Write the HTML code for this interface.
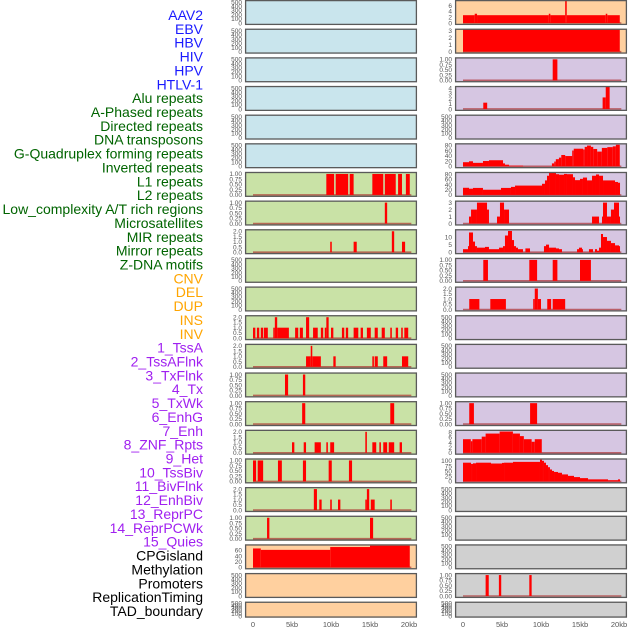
<!DOCTYPE html>
<html><head><meta charset="utf-8"><style>
html,body{margin:0;padding:0;background:#fff;}
svg{display:block;font-family:"Liberation Sans",sans-serif;}
</style></head><body>
<svg id="chart" width="630" height="630" viewBox="0 0 630 630" xmlns="http://www.w3.org/2000/svg"></svg>
<script>
const trackNames = ["AAV2","EBV","HBV","HIV","HPV","HTLV-1","Alu repeats","A-Phased repeats","Directed repeats","DNA transposons","G-Quadruplex forming repeats","Inverted repeats","L1 repeats","L2 repeats","Low_complexity A/T rich regions","Microsatellites","MIR repeats","Mirror repeats","Z-DNA motifs","CNV","DEL","DUP","INS","INV","1_TssA","2_TssAFlnk","3_TxFlnk","4_Tx","5_TxWk","6_EnhG","7_Enh","8_ZNF_Rpts","9_Het","10_TssBiv","11_BivFlnk","12_EnhBiv","13_ReprPC","14_ReprPCWk","15_Quies","CPGisland","Methylation","Promoters","ReplicationTiming","TAD_boundary"];
const xTickValues = [0,5,10,15,20];
const xTickLabels = ["0","5kb","10kb","15kb","20kb"];

// segments: [startKb, endKb, value]
const segL6 = [[9.4,10.4,1],[10.6,12.2,1],[12.4,12.9,1],[15.3,16.7,1],[16.9,18.3,1],[18.6,19.1,1],[19.6,20.1,1]];
const segL7 = [[16.9,17.2,1]];
const segL8 = [[9.9,10.1,1],[12.9,13.3,1],[17.8,18.1,2],[19.1,19.5,1]];
const segL11 = [[0,0.3,1],[0.5,0.8,1],[1.0,1.3,1],[1.4,1.9,1],[2.6,2.8,1],[2.8,3.1,2],[3.1,4.6,1],[5.4,5.8,1],[6.0,6.4,1],[6.8,7.2,2],[7.7,8.3,1],[8.7,9.0,1],[9.2,9.4,1],[9.4,9.7,2],[10.0,10.3,1],[11.4,11.7,1],[11.9,12.2,1],[12.9,13.5,1],[13.8,14.1,1],[14.6,15.1,1],[15.6,16.0,1],[16.5,16.9,1],[17.6,17.8,1],[18.3,18.6,1],[19.0,19.2,1],[19.4,19.9,1]];
const segL12 = [[6.8,7.4,1],[7.4,7.6,2],[7.6,8.7,1],[10.3,10.6,1],[15.3,15.5,1],[15.6,16.0,1],[16.7,17.2,1],[19.1,19.9,1]];
const segL13 = [[4.1,4.5,1],[6.4,6.7,1]];
const segL14 = [[6.3,6.7,1],[17.6,18.1,1]];
const segL15 = [[5.0,5.3,1],[6.5,6.8,1],[7.9,8.7,1],[9.4,9.6,1],[9.9,10.4,1],[14.4,14.6,2],[15.3,15.8,1],[16.2,16.4,1],[16.7,17.2,1],[17.4,18.1,1],[18.8,19.1,1]];
const segL16 = [[0,0.4,1],[0.6,1.3,1],[3.2,3.7,1],[6.4,6.8,1],[9.7,10.1,1],[12.3,12.7,1]];
const segL17 = [[7.8,8.2,2],[8.5,8.8,1],[9.9,10.1,1],[10.9,11.2,1],[14.4,14.6,1],[14.6,14.9,2],[15.1,15.6,1],[17.6,17.8,1]];
const segL18 = [[1.8,2.1,1],[15.0,15.4,1]];
const segL19 = [[0,1.0,67],[1.0,9.9,62],[9.9,15.0,72],[15.0,20.1,77]];
const segR0 = [[0,1.5,2.7],[1.5,1.8,3.2],[1.8,11,2.7],[11,11.2,3.2],[11.2,13.1,2.7],[13.1,13.3,7.6],[13.3,18.3,2.7],[18.3,18.5,3.2],[18.5,20.1,2.7]];
const segR1 = [[0,20.1,3.2]];
const segR2 = [[11.5,12.1,1]];
const segR3 = [[2.6,3.1,1.2],[17.9,18.3,2.2],[18.3,18.8,4.2]];
const segR5 = [[0,0.77,15.5],[0.77,1.28,19],[1.28,2.56,13],[2.56,3.33,20],[3.33,5.13,23],[5.13,5.38,11],[5.38,5.9,6],[5.9,7.7,2.5],[11.4,11.7,11],[11.7,11.9,18],[11.9,12.3,27],[12.3,12.6,33],[12.6,13.1,43],[13.1,14.0,39],[14.0,14.2,60],[14.2,15.4,67],[15.4,15.6,64],[15.6,15.9,74],[15.9,16.4,79],[16.4,16.7,74],[16.7,17.2,66],[17.2,17.8,56],[17.8,18.5,70],[18.5,19.2,73],[19.2,19.6,76],[19.6,20.1,82]];
const segR6 = [[0,0.77,27.5],[0.77,1.28,24],[1.28,2.56,27],[2.56,4.87,20],[4.87,6.15,27],[6.15,6.67,31],[6.67,10.13,36],[10.13,10.51,43],[10.51,10.77,56],[10.77,11.03,74],[11.03,11.92,85],[11.92,12.31,80],[12.31,12.95,78],[12.95,13.33,81],[13.33,14.1,80],[14.1,14.36,68],[14.36,15.0,57],[15.0,15.38,62],[15.38,15.9,67],[15.9,16.54,56],[16.54,17.05,74],[17.05,17.44,79],[17.44,17.95,74],[17.95,19.49,56],[19.49,19.87,50],[19.87,20.13,47]];
const segR7 = [[0.77,1.03,1],[1.03,1.79,2],[1.79,3.08,3],[3.08,3.33,2],[4.36,4.74,1],[4.74,5.26,3],[5.26,5.9,2],[16.54,17.44,1],[17.82,17.95,1],[17.95,18.46,3],[18.46,18.97,1],[18.97,19.36,2],[19.36,20.0,3],[20.0,20.13,1]];
const segR8 = [[0,0.64,2],[0.64,0.77,4],[0.77,1.28,13],[1.28,1.54,7],[1.54,1.79,4],[1.79,2.82,3],[2.82,3.33,3.5],[3.33,4.62,2],[4.62,5.13,3],[5.13,5.38,4],[5.38,5.77,11],[5.77,6.28,14],[6.28,6.54,8],[6.54,6.79,4],[6.79,7.05,3],[7.05,7.69,2],[8.0,8.59,2.5],[10.38,10.64,4],[10.64,11.03,5],[11.03,11.92,3],[11.92,12.31,2.5],[12.31,12.69,2],[14.62,14.87,2],[14.87,15.26,3],[15.26,15.38,2],[16.15,16.67,2],[16.92,17.18,2],[17.18,17.44,1],[17.44,17.69,3],[17.69,17.95,12],[17.95,18.46,10],[18.46,18.97,7.5],[18.97,19.49,6],[19.49,20.0,4.5],[20.0,20.13,4]];
const segR9 = [[2.6,3.2,1],[8.5,9.5,1],[11.5,12.1,1],[15.0,16.4,1]];
const segR10 = [[0.8,2.1,1],[3.5,5.5,1],[9.0,9.2,1],[9.2,9.6,2],[9.6,10.0,1],[10.8,11.3,1],[11.5,13.1,1]];
const segR14 = [[0.8,1.4,1],[8.6,9.5,1]];
const segR15 = [[0,1.0,5.3],[1.0,1.2,4.5],[1.2,2.4,5.3],[2.4,2.9,6.3],[2.9,4.7,7.5],[4.7,6.4,8.3],[6.4,7.3,7.5],[7.3,7.8,6.5],[7.8,8.8,5.3],[8.8,9.2,4.3],[9.2,10.1,5.3]];
const segR16 = [[0,1.03,91],[1.03,1.28,85],[1.28,1.67,88],[1.67,3.59,91],[3.59,5.0,87],[5.0,5.26,90],[5.26,6.41,91],[6.41,9.87,95],[9.87,10.13,106],[10.13,10.38,100],[10.38,10.64,91],[10.64,10.9,79],[10.9,11.15,69],[11.15,11.41,58],[11.41,11.67,51],[11.67,12.18,46],[12.18,12.69,42],[12.69,13.46,34],[13.46,14.23,27],[14.23,15.0,21],[15.0,16.03,16],[16.03,18.59,10],[18.59,19.87,6],[19.87,20.13,10]];
const segR20 = [[2.9,3.3,1],[4.6,4.9,1],[8.5,8.8,1]];

const T500 = {hi:525, v:[0,100,200,300,400,500], l:["0","100","200","300","400","500"]};
const T1 = {hi:1.05, v:[0,0.25,0.5,0.75,1], l:["0.00","0.25","0.50","0.75","1.00"]};
const T2 = {hi:2.1, v:[0,0.5,1,1.5,2], l:["0.0","0.5","1.0","1.5","2.0"]};
const BG = {blue:"#c9e5ed", green:"#c9e2a6", orange:"#ffd09f", purple:"#d6c6e2", gray:"#d0d0d0"};

function panelSpec(col,row){
  let bg, t=T500, segs=null;
  if(col===0){
    bg = row<6?BG.blue:(row<19?BG.green:BG.orange);
    const m={6:[segL6,T1],7:[segL7,T1],8:[segL8,T2],11:[segL11,T2],12:[segL12,T2],13:[segL13,T1],14:[segL14,T1],15:[segL15,T2],16:[segL16,T1],17:[segL17,T2],18:[segL18,T1],
      19:[segL19,{hi:78,v:[0,20,40,60],l:["0","20","40","60"]}]};
    if(m[row]){segs=m[row][0];t=m[row][1];}
  } else {
    bg = row<2?BG.orange:(row<17?BG.purple:BG.gray);
    const m={0:[segR0,{hi:7.6,v:[0,2,4,6],l:["0","2","4","6"]}],1:[segR1,{hi:3.15,v:[0,1,2,3],l:["0","1","2","3"]}],
      2:[segR2,T1],3:[segR3,{hi:4.2,v:[0,1,2,3,4],l:["0","1","2","3","4"]}],
      5:[segR5,{hi:84,v:[0,20,40,60,80],l:["0","20","40","60","80"]}],6:[segR6,{hi:85,v:[0,20,40,60,80],l:["0","20","40","60","80"]}],
      7:[segR7,{hi:3.15,v:[0,1,2,3],l:["0","1","2","3"]}],8:[segR8,{hi:14.5,v:[0,5,10],l:["0","5","10"]}],
      9:[segR9,T1],10:[segR10,T2],14:[segR14,T1],15:[segR15,{hi:8.6,v:[0,2,4,6,8],l:["0","2","4","6","8"]}],
      16:[segR16,{hi:107,v:[0,25,50,75,100],l:["0","25","50","75","100"]}],20:[segR20,T1]};
    if(m[row]){segs=m[row][0];t=m[row][1];}
  }
  return {bg,t,segs};
}

const NS="http://www.w3.org/2000/svg";
const svg=document.getElementById('chart');
function mk(tag,attrs,parent){const e=document.createElementNS(NS,tag);for(const k in attrs)e.setAttribute(k,attrs[k]);(parent||svg).appendChild(e);return e;}

const labelColor=i=>i<6?"#1a1aff":(i<19?"#006400":(i<24?"#ffa500":(i<39?"#a020f0":"#000")));
trackNames.forEach((n,i)=>{
  const t=mk('text',{x:203,y:15+i*13.86+5,'text-anchor':'end','font-size':14,fill:labelColor(i)});
  t.textContent=n;
  
  
});

const colX=[245,455], colZero=[253,463], pxPerKb=7.8, pitch=28.65, PW=172;
const xs=(c,kb)=>colZero[c]+kb*pxPerKb;

for(let c=0;c<2;c++){
  for(let r=0;r<22;r++){
    const py=r*pitch, h=(r===21)?16:25, px=colX[c];
    const sp=panelSpec(c,r);
    const g=mk('g',{});
    
    
    const clipId='cl'+c+'_'+r;
    const cp=mk('clipPath',{id:clipId},g);mk('rect',{x:px,y:py,width:PW,height:h},cp);
    mk('rect',{x:px,y:py,width:PW,height:h,fill:sp.bg},g);
    const top=py+1,bot=py+h-1,hi=sp.t.hi,lo=-0.045*hi;
    const ys=v=>bot-(v-lo)/(hi-lo)*(bot-top);
    const dg=mk('g',{'clip-path':'url(#'+clipId+')'},g);
    if(sp.segs){
      const bl=mk('line',{x1:xs(c,0),x2:xs(c,20.3),y1:ys(0),y2:ys(0),stroke:'rgba(170,40,40,0.65)','stroke-width':1.6},dg);
      
      
      sp.segs.forEach(s=>{
        const x0=xs(c,s[0]),x1=xs(c,s[1]),y0=ys(s[2]),y1=ys(0);
        const b=mk('rect',{x:x0,y:Math.min(y0,y1),width:Math.max(0.8,x1-x0),height:Math.abs(y1-y0),fill:'#ff0000'},dg);
        
        
      });
    }
    mk('rect',{x:px+0.6,y:py+0.6,width:PW-1.2,height:h-1.2,fill:'none',stroke:'#5a5a5a','stroke-width':1.3},g);
    sp.t.v.forEach((v,k)=>{
      const tt=mk('text',{x:px-3,y:ys(v)+2.3,'text-anchor':'end','font-size':6.5,fill:'#555'},g);
      tt.textContent=sp.t.l[k];
      
      
    });
  }
  xTickValues.forEach((v,k)=>{
    const t=mk('text',{x:xs(c,v),y:627,'text-anchor':'middle','font-size':7.5,fill:'#555'});
    t.textContent=xTickLabels[k];
    
    
  });
}
</script>
</body></html>
